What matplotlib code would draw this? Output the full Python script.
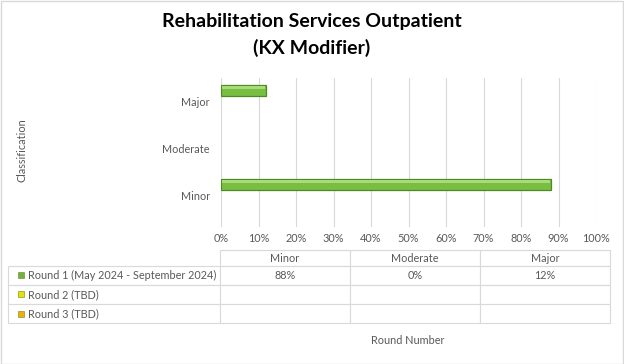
import matplotlib.pyplot as plt
from matplotlib.patches import Rectangle
import numpy as np

categories = ["Minor", "Moderate", "Major"]
series_names = ["Round 1 (May 2024 - September 2024)", "Round 2 (TBD)", "Round 3 (TBD)"]
round1 = [88, 0, 12]
round2 = [np.nan, np.nan, np.nan]  # not collected yet
round3 = [np.nan, np.nan, np.nan]
series_colors = ["#6cb43a", "#e4e400", "#e8b400"]
x_ticks = [0, 10, 20, 30, 40, 50, 60, 70, 80, 90, 100]

plt.rcParams['font.family'] = ['Lato', 'DejaVu Sans']
grey = '#595959'
line_grey = '#d9d9d9'

fig = plt.figure(figsize=(6.24, 3.64), dpi=100)
ax = fig.add_axes([221/624, 1-227/364, 375/624, 149/364])

y = np.arange(len(categories))
bar_h = 0.235
offsets = [0.25, 0.0, -0.25]
for vals, off, col in zip([round1, round2, round3], offsets, series_colors):
    vals = np.array(vals, dtype=float)
    if np.all(np.isnan(vals)):
        continue
    edges = ['#4d8a24' if v > 0 else 'none' for v in vals]
    ax.barh(y + off, vals, height=bar_h, color='#78be42', edgecolor=edges, linewidth=0.9, zorder=3)
    # light strip to fake the bevel
    ax.barh(y + off + 0.055, np.maximum(vals - 0.6, 0), left=0.3, height=0.06,
            color='#a8dc76', linewidth=0, zorder=4)

ax.set_xlim(0, 100)
ax.set_ylim(-0.66, 2.51)
ax.set_xticks(x_ticks)
ax.set_xticklabels([f"{v}%" for v in x_ticks])
ax.set_yticks(y)
ax.set_yticklabels(categories)
ax.tick_params(axis='both', length=0, labelsize=7.8, colors=grey)
ax.tick_params(axis='y', pad=8)
ax.tick_params(axis='x', pad=4)
ax.grid(axis='x', color=line_grey, linewidth=0.8, zorder=0)
for s in ax.spines.values():
    s.set_visible(False)

# data table under the chart (first column holds the series names)
tax = fig.add_axes([0, 0, 1, 1])
tax.axis('off')
tax.set_xlim(0, 1)
tax.set_ylim(0, 1)
rows = []
for name, s in zip(series_names, [round1, round2, round3]):
    rows.append([name] + ["" if np.isnan(v) else f"{v:.0f}%" for v in np.array(s, float)])
tab = tax.table(cellText=rows, colLabels=[""] + categories, cellLoc='center',
                bbox=[8/624, 1-323/364, 602/624, 73/364])
tab.auto_set_font_size(False)
tab.set_fontsize(7.8)
col_w = [212, 130, 130, 130]
for (r, c), cell in tab.get_celld().items():
    cell.set_width(col_w[c])
    cell.set_height(16 if r == 0 else 19)
    cell.set_edgecolor(line_grey)
    cell.set_linewidth(0.8)
    cell.get_text().set_color(grey)
    if c == 0:
        cell.get_text().set_horizontalalignment('left')
        cell.PAD = 0.095
tab[0, 0].visible_edges = ''

fig.canvas.draw()
inv = fig.transFigure.inverted()
for i, col in enumerate(series_colors):
    bb = tab[i + 1, 0].get_window_extent(fig.canvas.get_renderer())
    fx, fy = inv.transform((bb.x0 + 13, (bb.y0 + bb.y1) / 2))
    tax.scatter([fx], [fy], marker='s', s=20, color=col, edgecolors='#7a7a2a',
                linewidths=0.4, transform=tax.transAxes, zorder=5)

fig.text(0.5, 1-22/364, "Rehabilitation Services Outpatient", ha='center', va='center',
         fontsize=14, fontweight='bold', color='black')
fig.text(0.5, 1-48/364, "(KX Modifier)", ha='center', va='center',
         fontsize=14, fontweight='bold', color='black')
fig.text(22/624, 1-150/364, "Classification", rotation=90, ha='center', va='center',
         fontsize=7.8, color=grey)
fig.text(408/624, 1-340/364, "Round Number", ha='center', va='center',
         fontsize=7.8, color=grey)

fig.patches.append(Rectangle((0.001, 0.001), 0.998, 0.997, transform=fig.transFigure,
                             fill=False, edgecolor=line_grey, linewidth=1))

fig.savefig('out.png', dpi=100)
